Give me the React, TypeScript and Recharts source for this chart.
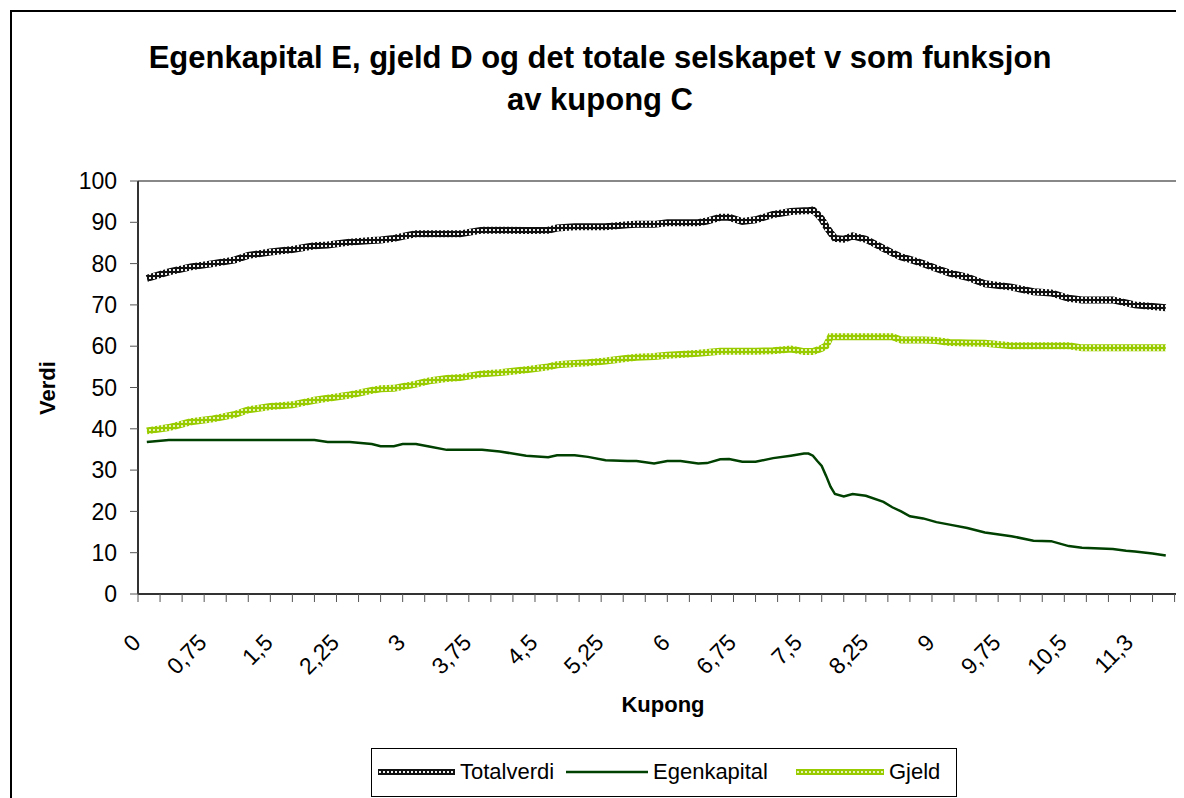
import { LineChart, Line, XAxis, YAxis, ReferenceLine } from 'recharts';

const kupong = [
  0.1, 0.35, 0.6, 0.85, 1.1, 1.25, 1.5, 1.75, 2.0, 2.15,
  2.4, 2.65, 2.75, 2.9, 3.0, 3.15, 3.3, 3.5, 3.65, 3.9,
  4.1, 4.4, 4.65, 4.75, 4.95, 5.1, 5.3, 5.55, 5.65, 5.85,
  6.0, 6.15, 6.35, 6.45, 6.6, 6.7, 6.85, 7.0, 7.2, 7.4,
  7.55, 7.6, 7.65, 7.7, 7.75, 7.8, 7.85, 7.9, 8.0, 8.1,
  8.25, 8.45, 8.55, 8.65, 8.75, 8.9, 9.05, 9.2, 9.4, 9.6,
  9.9, 10.15, 10.35, 10.55, 10.7, 11.05, 11.2, 11.3, 11.5, 11.65,
];

const totalverdi = [
  76.4, 78.0, 79.2, 80.0, 80.9, 82.0, 82.8, 83.4, 84.3, 84.5,
  85.2, 85.6, 85.7, 86.1, 86.6, 87.2, 87.2, 87.2, 87.2, 88.1,
  88.1, 88.0, 88.1, 88.6, 88.9, 88.9, 88.9, 89.4, 89.5, 89.5,
  89.9, 89.9, 89.9, 90.3, 91.2, 91.2, 90.2, 90.6, 91.9, 92.6,
  92.8, 92.8, 93.0, 92.0, 90.8, 89.0, 87.5, 86.1, 85.9, 86.7,
  85.9, 83.7, 82.6, 81.6, 81.0, 80.0, 78.8, 77.7, 76.7, 75.1,
  74.3, 73.2, 72.9, 71.6, 71.2, 71.2, 70.5, 70.0, 69.6, 69.3,
];

const egenkapital = [
  36.8, 37.3, 37.3, 37.3, 37.3, 37.3, 37.3, 37.3, 37.3, 36.8,
  36.8, 36.3, 35.8, 35.8, 36.3, 36.3, 35.7, 34.9, 34.9, 34.9,
  34.5, 33.5, 33.1, 33.6, 33.6, 33.2, 32.4, 32.2, 32.2, 31.6,
  32.2, 32.2, 31.6, 31.7, 32.6, 32.7, 32.0, 32.0, 32.9, 33.5,
  34.0, 34.0, 33.5, 32.2, 31.0, 28.6, 26.0, 24.2, 23.6, 24.2,
  23.8, 22.3, 21.0, 20.0, 18.8, 18.3, 17.4, 16.8, 16.0, 14.9,
  14.0, 12.9, 12.8, 11.6, 11.2, 10.9, 10.5, 10.3, 9.8, 9.3,
];

const gjeld = [
  39.5, 40.3, 41.7, 42.4, 43.5, 44.6, 45.4, 45.8, 46.9, 47.4,
  48.2, 49.3, 49.7, 49.8, 50.2, 50.8, 51.6, 52.2, 52.4, 53.3,
  53.6, 54.3, 55.0, 55.5, 55.8, 56.0, 56.4, 57.1, 57.3, 57.5,
  57.8, 58.0, 58.3, 58.5, 58.8, 58.8, 58.8, 58.8, 58.9, 59.3,
  58.7, 58.7, 58.7, 59.1, 59.5, 60.1, 62.3, 62.3, 62.3, 62.3,
  62.3, 62.3, 62.3, 61.5, 61.5, 61.5, 61.4, 60.9, 60.8, 60.7,
  60.1, 60.1, 60.1, 60.1, 59.6, 59.6, 59.6, 59.6, 59.6, 59.6,
];

// labelled category positions on the x axis, and their text
const labelPositions = [0, 0.75, 1.5, 2.25, 3, 3.75, 4.5, 5.25, 6, 6.75, 7.5, 8.25, 9, 9.75, 10.5, 11.25];
const tickLabels = ['0', '0,75', '1,5', '2,25', '3', '3,75', '4,5', '5,25', '6', '6,75', '7,5', '8,25', '9', '9,75', '10,5', '11,3'];
const yTicks = [0, 10, 20, 30, 40, 50, 60, 70, 80, 90, 100];

const xTicks = Array.from({ length: 48 }, (_, i) => i * 0.25);

const data = kupong.map((k, i) => ({
  kupong: k,
  Totalverdi: totalverdi[i],
  Egenkapital: egenkapital[i],
  Gjeld: gjeld[i],
}));

const FONT = '"Liberation Sans", Arial, sans-serif';

const XTick = (props: any) => {
  const { x, y, payload } = props;
  const idx = labelPositions.findIndex((p) => Math.abs(p - payload.value) < 1e-6);
  if (idx < 0) return null;
  const ax = x + 4;
  const ay = y + 40;
  return (
    <text
      x={ax}
      y={ay}
      textAnchor="end"
      fontSize={23}
      fontFamily={FONT}
      fill="#000"
      transform={`rotate(-45 ${ax} ${ay})`}
    >
      {tickLabels[idx]}
    </text>
  );
};

const LegendSample = ({ stroke, width, len }: { stroke: string; width: number; len: number }) => (
  <svg width={len} height={12} style={{ display: 'block' }}>
    <line x1={0} y1={6} x2={len} y2={6} stroke={stroke} strokeWidth={width} />
  </svg>
);

export default function App() {
  return (
    <div
      style={{
        position: 'relative',
        width: 1176,
        height: 790,
        overflow: 'hidden',
        background: '#fff',
        fontFamily: FONT,
      }}
    >
      {/* fill patterns for the thick hatched lines */}
      <svg width={0} height={0} style={{ position: 'absolute' }}>
        <defs>
          <pattern id="patTotal" width={4} height={4} patternUnits="userSpaceOnUse">
            <rect width={4} height={4} fill="#111" />
            <rect x={1} y={1} width={2} height={2} fill="#f0f0f0" />
          </pattern>
          <pattern id="patGjeld" width={4} height={4} patternUnits="userSpaceOnUse">
            <rect width={4} height={4} fill="#99cc00" />
            <rect x={1} y={1} width={2} height={2} fill="#e6f2b8" />
          </pattern>
        </defs>
      </svg>

      {/* outer chart frame */}
      <div
        style={{
          position: 'absolute',
          left: 2,
          top: 2,
          width: 1200,
          height: 820,
          border: '2px solid #000',
          boxSizing: 'border-box',
        }}
      />

      <div
        style={{
          position: 'absolute',
          left: 0,
          top: 29,
          width: 1184,
          textAlign: 'center',
          fontWeight: 'bold',
          fontSize: 31,
          lineHeight: '42px',
          color: '#000',
        }}
      >
        Egenkapital E, gjeld D og det totale selskapet v som funksjon
        <br />
        av kupong C
      </div>

      <div style={{ position: 'absolute', left: 0, top: 0 }}>
        <LineChart
          width={1176}
          height={790}
          data={data}
          margin={{ top: 173, right: 5, left: 70, bottom: 144 }}
        >
          <XAxis
            dataKey="kupong"
            type="number"
            domain={[0, 11.8]}
            ticks={xTicks}
            interval={0}
            height={60}
            tickSize={8}
            tickMargin={2}
            stroke="#333"
            strokeWidth={2}
            tickLine={{ stroke: '#555', strokeWidth: 1 }}
            tick={<XTick />}
          />
          <YAxis
            type="number"
            domain={[0, 100]}
            ticks={yTicks}
            interval={0}
            width={60}
            tickSize={8}
            tickMargin={13}
            stroke="#333"
            strokeWidth={2}
            tickLine={{ stroke: '#555', strokeWidth: 1 }}
            tick={{ fontSize: 23, fontFamily: FONT, fill: '#000' }}
          />
          <ReferenceLine y={100} stroke="#888" strokeWidth={2} />
          <ReferenceLine x={11.8} stroke="#888" strokeWidth={2} />
          <Line
            type="linear"
            dataKey="Totalverdi"
            stroke="url(#patTotal)"
            strokeWidth={7}
            dot={false}
            isAnimationActive={false}
          />
          <Line
            type="linear"
            dataKey="Egenkapital"
            stroke="#004000"
            strokeWidth={2.5}
            dot={false}
            isAnimationActive={false}
          />
          <Line
            type="linear"
            dataKey="Gjeld"
            stroke="url(#patGjeld)"
            strokeWidth={7}
            dot={false}
            isAnimationActive={false}
          />
        </LineChart>
      </div>

      <div
        style={{
          position: 'absolute',
          left: 40,
          top: 380,
          transform: 'translate(-50%, -50%) rotate(-90deg)',
          fontWeight: 'bold',
          fontSize: 22,
          whiteSpace: 'nowrap',
        }}
      >
        Verdi
      </div>

      <div
        style={{
          position: 'absolute',
          left: 655,
          top: 697,
          transform: 'translate(-50%, -50%)',
          fontWeight: 'bold',
          fontSize: 22,
          whiteSpace: 'nowrap',
        }}
      >
        Kupong
      </div>

      <div
        style={{
          position: 'absolute',
          left: 363,
          top: 740,
          width: 586,
          height: 49,
          border: '1.5px solid #000',
          boxSizing: 'border-box',
          fontSize: 22,
          whiteSpace: 'nowrap',
        }}
      >
        <div style={{ position: 'absolute', left: 6, top: 17 }}>
          <LegendSample stroke="url(#patTotal)" width={6} len={77} />
        </div>
        <span style={{ position: 'absolute', left: 88, top: 10 }}>Totalverdi</span>
        <div style={{ position: 'absolute', left: 194, top: 17 }}>
          <LegendSample stroke="#004000" width={2.5} len={82} />
        </div>
        <span style={{ position: 'absolute', left: 281, top: 10 }}>Egenkapital</span>
        <div style={{ position: 'absolute', left: 424, top: 17 }}>
          <LegendSample stroke="url(#patGjeld)" width={6} len={88} />
        </div>
        <span style={{ position: 'absolute', left: 517, top: 10 }}>Gjeld</span>
      </div>
    </div>
  );
}
